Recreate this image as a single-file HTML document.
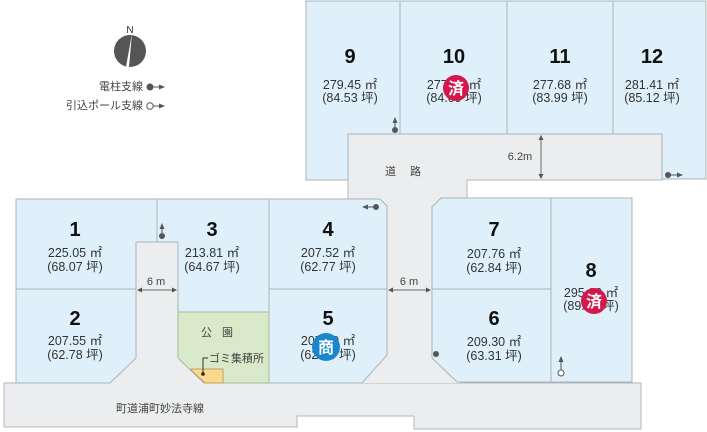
<!DOCTYPE html>
<html><head><meta charset="utf-8"><style>
html,body{margin:0;padding:0;background:#fff;}
svg{display:block;font-family:"Liberation Sans","Noto Sans CJK JP",sans-serif;}
.lot{fill:#dff0fa;stroke:#a9b3b9;stroke-width:1;}
.rd{fill:#ecedee;stroke:#b3b6b8;stroke-width:1;}
.n{font-size:20px;font-weight:bold;fill:#111;text-anchor:middle;}
.a{font-size:12.5px;fill:#333;text-anchor:middle;}
.s{font-size:11px;fill:#444;}
</style></head><body>
<svg width="707" height="432" viewBox="0 0 707 432" xmlns="http://www.w3.org/2000/svg">
<defs><marker id="ah" markerWidth="6" markerHeight="6" refX="5" refY="3" orient="auto"><path d="M0,0.5 L6,3 L0,5.5 z" fill="#555"/></marker></defs>
<!-- roads -->
<path class="rd" d="M4,383 L641,383 L641,429 L414,429 L414,416 L297,416 L297,427 L4,427 Z"/>
<rect x="348" y="134" width="314" height="46" class="rd"/>
<rect x="348" y="150" width="119" height="60" fill="#ecedee"/>
<line x1="348" y1="134" x2="348" y2="200" stroke="#b3b6b8"/>
<line x1="467" y1="180" x2="467" y2="200" stroke="#b3b6b8"/>
<rect x="360" y="195" width="100" height="188" fill="#ecedee"/>
<rect x="136" y="242" width="42" height="141" class="rd"/>
<rect x="137" y="300" width="40" height="84" fill="#ecedee"/>
<path d="M105,384 L136,355 L178,355 L212,384 Z" fill="#ecedee"/>
<!-- top lots -->
<path class="lot" d="M306,1 L400,1 L400,134 L348,134 L348,180 L306,180 Z"/>
<rect class="lot" x="400" y="1" width="107" height="133"/>
<rect class="lot" x="507" y="1" width="106" height="133"/>
<path class="lot" d="M613,1 L706,1 L706,179 L662,179 L662,134 L613,134 Z"/>
<!-- left lots -->
<path class="lot" d="M16,199 L157,199 L157,242 L136,242 L136,289 L16,289 Z"/>
<path class="lot" d="M16,289 L136,289 L136,358 L110,383 L16,383 Z"/>
<path class="lot" d="M157,199 L269,199 L269,312 L178,312 L178,242 L157,242 Z"/>
<path class="lot" d="M269,199 L380,199 L387,206 L387,289 L269,289 Z"/>
<path class="lot" d="M269,289 L387,289 L387,355 L362,383 L269,383 Z"/>
<path d="M178,312 L269,312 L269,383 L204,383 L178,358 Z" fill="#d8eac9" stroke="#a9b9a0"/>
<path d="M191,369 L223,369 L223,383 L205,383 L191,370 Z" fill="#fbd98b" stroke="#b9a070"/>
<!-- right lots -->
<path class="lot" d="M441,198 L551,198 L551,289 L432,289 L432,207 Z"/>
<path class="lot" d="M432,289 L551,289 L551,382 L457,382 L432,358 Z"/>
<rect class="lot" x="551" y="198" width="81" height="184"/>
<!-- compass & legend -->
<text x="130" y="33" font-size="10" text-anchor="middle" fill="#333">N</text>
<circle cx="130" cy="51" r="16" fill="#555"/>
<path d="M132,33 L126,67 L129,67 Z" fill="#fff"/>
<text x="143" y="90" class="s" font-size="9" text-anchor="end">電柱支線</text>
<circle cx="150" cy="87" r="3.5" fill="#555"/><line x1="150" y1="87" x2="164" y2="87" stroke="#555" marker-end="url(#ah)"/>
<text x="143" y="109" class="s" font-size="9" text-anchor="end">引込ポール支線</text>
<circle cx="150" cy="106" r="3.2" fill="#fff" stroke="#555"/><line x1="153" y1="106" x2="164" y2="106" stroke="#555" marker-end="url(#ah)"/>
<!-- lot labels -->
<text class="n" x="350" y="63">9</text><text class="a" x="350" y="89">279.45 ㎡</text><text class="a" x="350" y="102">(84.53 坪)</text>
<text class="n" x="454" y="63">10</text><text class="a" x="454" y="89">277.98 ㎡</text><text class="a" x="454" y="102">(84.09 坪)</text>
<text class="n" x="560" y="63">11</text><text class="a" x="560" y="89">277.68 ㎡</text><text class="a" x="560" y="102">(83.99 坪)</text>
<text class="n" x="652" y="63">12</text><text class="a" x="652" y="89">281.41 ㎡</text><text class="a" x="652" y="102">(85.12 坪)</text>
<text class="n" x="75" y="236">1</text><text class="a" x="75" y="257">225.05 ㎡</text><text class="a" x="75" y="271">(68.07 坪)</text>
<text class="n" x="75" y="325">2</text><text class="a" x="75" y="345">207.55 ㎡</text><text class="a" x="75" y="359">(62.78 坪)</text>
<text class="n" x="212" y="236">3</text><text class="a" x="212" y="257">213.81 ㎡</text><text class="a" x="212" y="271">(64.67 坪)</text>
<text class="n" x="328" y="236">4</text><text class="a" x="328" y="257">207.52 ㎡</text><text class="a" x="328" y="271">(62.77 坪)</text>
<text class="n" x="328" y="325">5</text><text class="a" x="328" y="345">207.09 ㎡</text><text class="a" x="328" y="359">(62.64 坪)</text>
<text class="n" x="494" y="236">7</text><text class="a" x="494" y="258">207.76 ㎡</text><text class="a" x="494" y="272">(62.84 坪)</text>
<text class="n" x="494" y="325">6</text><text class="a" x="494" y="346">209.30 ㎡</text><text class="a" x="494" y="360">(63.31 坪)</text>
<text class="n" x="591" y="277">8</text><text class="a" x="591" y="297">295.00 ㎡</text><text class="a" x="591" y="310">(89.24 坪)</text>
<!-- badges -->
<circle cx="456" cy="88" r="13" fill="#d3184b"/><text x="456" y="94" font-size="16" font-weight="bold" fill="#fff" text-anchor="middle">済</text>
<circle cx="594" cy="301" r="13" fill="#d3184b"/><text x="594" y="307" font-size="16" font-weight="bold" fill="#fff" text-anchor="middle">済</text>
<circle cx="326" cy="347" r="14" fill="#1a87cd"/><text x="326" y="353" font-size="16" font-weight="bold" fill="#fff" text-anchor="middle">商</text>
<!-- road labels -->
<text x="410" y="175" class="s" font-size="11" text-anchor="middle" letter-spacing="14">道路</text>
<text x="160" y="412" class="s" font-size="11" text-anchor="middle">町道浦町妙法寺線</text>
<text x="222" y="336" class="s" font-size="11" text-anchor="middle" letter-spacing="10">公園</text>
<text x="209" y="362" class="s" font-size="10">ゴミ集積所</text>
<polyline points="203,374 203,358 208,358" fill="none" stroke="#333"/><circle cx="203" cy="374" r="1.8" fill="#222"/>
<!-- dimensions -->
<text x="156" y="285" class="s" font-size="11" text-anchor="middle">6 m</text>
<line x1="140" y1="290" x2="174" y2="290" stroke="#666"/>
<path d="M137,290 l5,-2.5 v5z M177,290 l-5,-2.5 v5z" fill="#555"/>
<text x="409" y="285" class="s" font-size="11" text-anchor="middle">6 m</text>
<line x1="390" y1="290" x2="429" y2="290" stroke="#666"/>
<path d="M388,290 l5,-2.5 v5z M431,290 l-5,-2.5 v5z" fill="#555"/>
<text x="520" y="160" class="s" font-size="11" text-anchor="middle">6.2m</text>
<line x1="541" y1="137" x2="541" y2="177" stroke="#666"/>
<path d="M541,135 l-2.5,5 h5z M541,179 l-2.5,-5 h5z" fill="#555"/>
<!-- pole icons -->
<circle cx="395" cy="130" r="3" fill="#555"/><line x1="395" y1="130" x2="395" y2="118" stroke="#555" marker-end="url(#ah)"/>
<circle cx="162" cy="236" r="3" fill="#555"/><line x1="162" y1="236" x2="162" y2="224" stroke="#555" marker-end="url(#ah)"/>
<circle cx="376" cy="207" r="3" fill="#555"/><line x1="376" y1="207" x2="363" y2="207" stroke="#555" marker-end="url(#ah)"/>
<circle cx="668" cy="175" r="3" fill="#555"/><line x1="668" y1="175" x2="682" y2="175" stroke="#555" marker-end="url(#ah)"/>
<circle cx="436" cy="354" r="3" fill="#555"/>
<circle cx="561" cy="373" r="3" fill="#fff" stroke="#555"/><line x1="561" y1="370" x2="561" y2="357" stroke="#555" marker-end="url(#ah)"/>
</svg>
</body></html>
